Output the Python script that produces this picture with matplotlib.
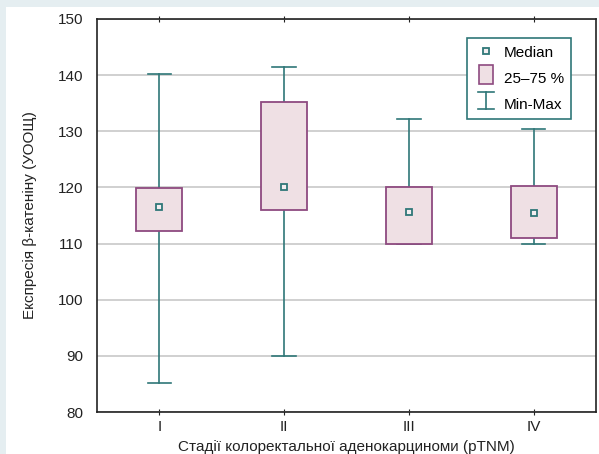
import numpy as np
import matplotlib
matplotlib.use("Agg")
from matplotlib import pyplot as plt
from matplotlib.patches import Rectangle
from matplotlib.lines import Line2D
from matplotlib.legend_handler import HandlerBase

plt.rcParams['font.family'] = ['Liberation Sans', 'DejaVu Sans']

stages = ["I", "II", "III", "IV"]
medians = [116.6, 120.1, 115.7, 115.4]
q25 = [112.2, 116.0, 110.0, 111.0]
q75 = [119.9, 135.2, 120.1, 120.3]
mins = [85.2, 90.0, 110.0, 110.0]
maxs = [140.2, 141.5, 132.2, 130.4]

teal = "#2f7778"
purple = "#8e4a80"
pink = "#efe0e4"
fs = 11


class MinMaxHandler(HandlerBase):
    def create_artists(self, legend, orig_handle, xd, yd, w, h, fontsize, trans):
        cx = xd + w / 2
        cw = 5.5
        cy = yd + h / 2
        y0, y1 = cy - 6.2, cy + 6.2
        arts = [Line2D([cx, cx], [y0, y1], color=teal, lw=1.2),
                Line2D([cx - cw, cx + cw], [y0, y0], color=teal, lw=1.2),
                Line2D([cx - cw, cx + cw], [y1, y1], color=teal, lw=1.2)]
        for a in arts:
            a.set_transform(trans)
        return arts


class BoxHandler(HandlerBase):
    def create_artists(self, legend, orig_handle, xd, yd, w, h, fontsize, trans):
        bw, bh = 10.5, 13.2
        cx, cy = xd + w / 2, yd + h / 2
        r = Rectangle((cx - bw / 2, cy - bh / 2), bw, bh,
                      facecolor=pink, edgecolor=purple, lw=1.2, transform=trans)
        return [r]


fig = plt.figure(figsize=(5.99, 4.54), dpi=100, facecolor="#e5eef1")
fig.patches.append(Rectangle((6 / 599, 0), 1, 447 / 454, transform=fig.transFigure,
                             facecolor="white", edgecolor="none", zorder=-5))
ax = fig.add_axes([97 / 599, 1 - 412 / 454, 499 / 599, 393 / 454])
ax.set_facecolor("white")

x = np.arange(1, len(stages) + 1)
bw = 0.37
cap = 0.19
for i in range(len(stages)):
    ax.plot([x[i], x[i]], [mins[i], q25[i]], color=teal, lw=1.2, zorder=2)
    ax.plot([x[i], x[i]], [q75[i], maxs[i]], color=teal, lw=1.2, zorder=2)
    ax.plot([x[i] - cap / 2, x[i] + cap / 2], [mins[i], mins[i]], color=teal, lw=1.2, zorder=2)
    ax.plot([x[i] - cap / 2, x[i] + cap / 2], [maxs[i], maxs[i]], color=teal, lw=1.2, zorder=2)
    ax.add_patch(Rectangle((x[i] - bw / 2, q25[i]), bw, q75[i] - q25[i],
                           facecolor=pink, edgecolor=purple, lw=1.3, zorder=3))
ax.plot(x, medians, ls="none", marker="s", ms=5, mfc="#f3eef0", mec=teal, mew=1.3, zorder=4)

ax.set_xlim(0.5, 4.5)
ax.set_ylim(80, 150)
ax.set_yticks(np.arange(80, 151, 10))
ax.set_xticks(x)
ax.set_xticklabels(stages)
ax.yaxis.grid(True, color="#c8c8c8", lw=1.2, zorder=0)
ax.set_axisbelow(True)
ax.tick_params(axis="y", length=0, labelsize=fs, pad=10, colors="#222222")
ax.tick_params(axis="x", direction="inout", length=5, labelsize=fs, top=True, colors="#222222")
for s in ax.spines.values():
    s.set_color("#222222")
    s.set_linewidth(1.2)

ax.set_xlabel("Стадії колоректальної аденокарциноми (pTNM)", fontsize=fs, labelpad=4, color="#222222")
ax.set_ylabel("Експресія β-катеніну (УООЩ)", fontsize=fs, color="#222222")
ax.yaxis.set_label_coords(-60 / 499, 0.5)

h_med = Line2D([], [], ls="none", marker="s", ms=5, mfc="#f3eef0", mec=teal, mew=1.3)
h_box = Rectangle((0, 0), 1, 1)
h_mm = Line2D([], [])
leg = ax.legend([h_med, h_box, h_mm], ["Median", "25–75 %", "Min-Max"],
                handler_map={Rectangle: BoxHandler(), h_mm: MinMaxHandler()},
                loc="upper left", bbox_to_anchor=(370 / 499, 374 / 393), fontsize=fs,
                fancybox=False, framealpha=1, edgecolor=teal, handlelength=1.6,
                handleheight=1.0, handletextpad=0.36, labelspacing=0.72,
                borderpad=0.45, borderaxespad=0)
leg.get_frame().set_linewidth(1.2)

fig.savefig("out.png", dpi=100, facecolor=fig.get_facecolor())
